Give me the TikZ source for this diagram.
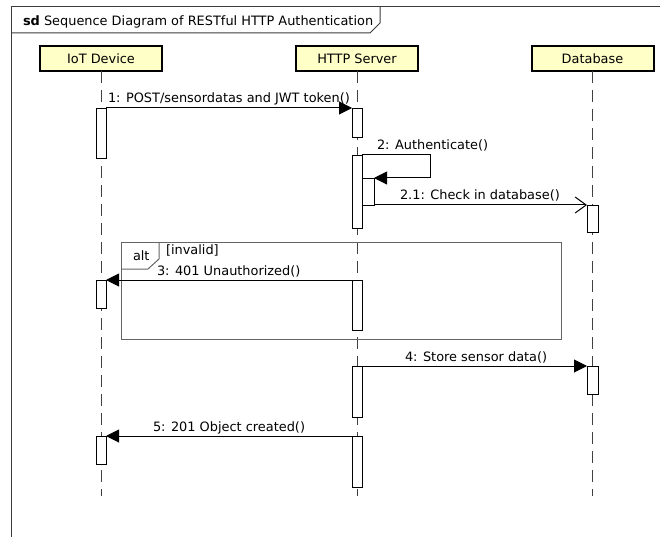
\documentclass[tikz,border=0pt]{standalone}
\usepackage{fontspec}
\setmainfont{DejaVu Sans}
\usetikzlibrary{arrows.meta}
\definecolor{headfill}{RGB}{255,255,200}
\definecolor{framegray}{RGB}{60,60,60}
\definecolor{altgray}{RGB}{100,100,100}
\begin{document}
\begin{tikzpicture}[x=1pt,y=-1pt,
  font=\fontsize{12.9}{15}\selectfont,
  head/.style={draw=black, line width=2pt, fill=headfill, minimum width=122pt,
    minimum height=25pt, inner sep=0pt, outer sep=0pt},
  act/.style={draw=black, line width=0.9pt, fill=white, minimum width=10pt,
    inner sep=0pt, outer sep=0pt, anchor=north},
  lifeline/.style={draw=black!75, line width=1pt, dash pattern=on 12pt off 7pt},
  msg/.style={draw=black, line width=1pt, -{Triangle[length=13pt,width=13pt]}},
  msgopen/.style={draw=black, line width=1pt, -{Straight Barb[length=11pt,width=16pt]}},
  lbl/.style={anchor=base west, inner sep=0pt, outer sep=0pt}]
\useasboundingbox (0,0) rectangle (660,537);

% outer sd frame and its name tab
\draw[framegray, line width=1pt] (660,7) -- (11,7) -- (11,537);
\draw[framegray, line width=1pt] (11,33) -- (370,33) -- (380,23) -- (380,7);
\node[lbl] (title) at (23,26) {\textbf{sd} Sequence Diagram of RESTful HTTP Authentication};

% lifeline heads
\node[head] (iot) at (101,58.5) {IoT Device};
\node[head] (server) at (357,58.5) {HTTP Server};
\node[head] (db) at (592.5,58.5) {Database};

% lifelines
\coordinate (iotEnd) at (101,496);
\coordinate (serverEnd) at (357,496);
\coordinate (dbEnd) at (592.5,496);
\draw[lifeline] (iot.south) -- (iotEnd);
\draw[lifeline] (server.south) -- (serverEnd);
\draw[lifeline] (db.south) -- (dbEnd);

% alt combined fragment
\node[draw=altgray, line width=1pt, minimum width=440pt, minimum height=97pt,
  anchor=north west, inner sep=0pt, outer sep=0pt] (alt) at (121,242) {};
\draw[altgray, line width=1pt] (121,269) -- (148,269) -- (159,259) -- (159,242);
\node[lbl] (altname) at (133,260) {alt};
\node[lbl] (guard) at (166,254) {[invalid]};

% activation bars
\node[act, minimum height=50pt] (i1) at (101,108) {};
\node[act, minimum height=29pt] (s1) at (357,108) {};
\node[act, minimum height=73pt] (s2) at (357,155) {};
\node[act, minimum height=27pt, minimum width=12pt] (s2n) at (368,178) {};
\node[act, minimum height=27pt, minimum width=11pt] (d1) at (592.5,205) {};
\node[act, minimum height=28pt] (i2) at (101,280) {};
\node[act, minimum height=50pt] (s3) at (357,280) {};
\node[act, minimum height=51pt] (s4) at (357,366) {};
\node[act, minimum height=28pt, minimum width=11pt] (d2) at (592.5,366) {};
\node[act, minimum height=28pt] (i3) at (101,436) {};
\node[act, minimum height=51pt] (s5) at (357,436) {};

% messages
\draw[msg] (i1.north east) -- (s1.north west);
\node[lbl] (m1) at (108,103) {1: POST/sensordatas and JWT token()};

\draw[msg] (s2.north east) -- ++(68,0) |- (s2n.north east);
\node[lbl] (m2) at (377,150) {2: Authenticate()};

\draw[msgopen] (s2n.south east) -- (d1.north west);
\node[lbl] (m21) at (400,200) {2.1: Check in database()};

\draw[msg] (s3.north west) -- (i2.north east);
\node[lbl] (m3) at (157,275) {3: 401 Unauthorized()};

\draw[msg] (s4.north east) -- (d2.north west);
\node[lbl] (m4) at (405,361) {4: Store sensor data()};

\draw[msg] (s5.north west) -- (i3.north east);
\node[lbl] (m5) at (153,431) {5: 201 Object created()};
\end{tikzpicture}
\end{document}
